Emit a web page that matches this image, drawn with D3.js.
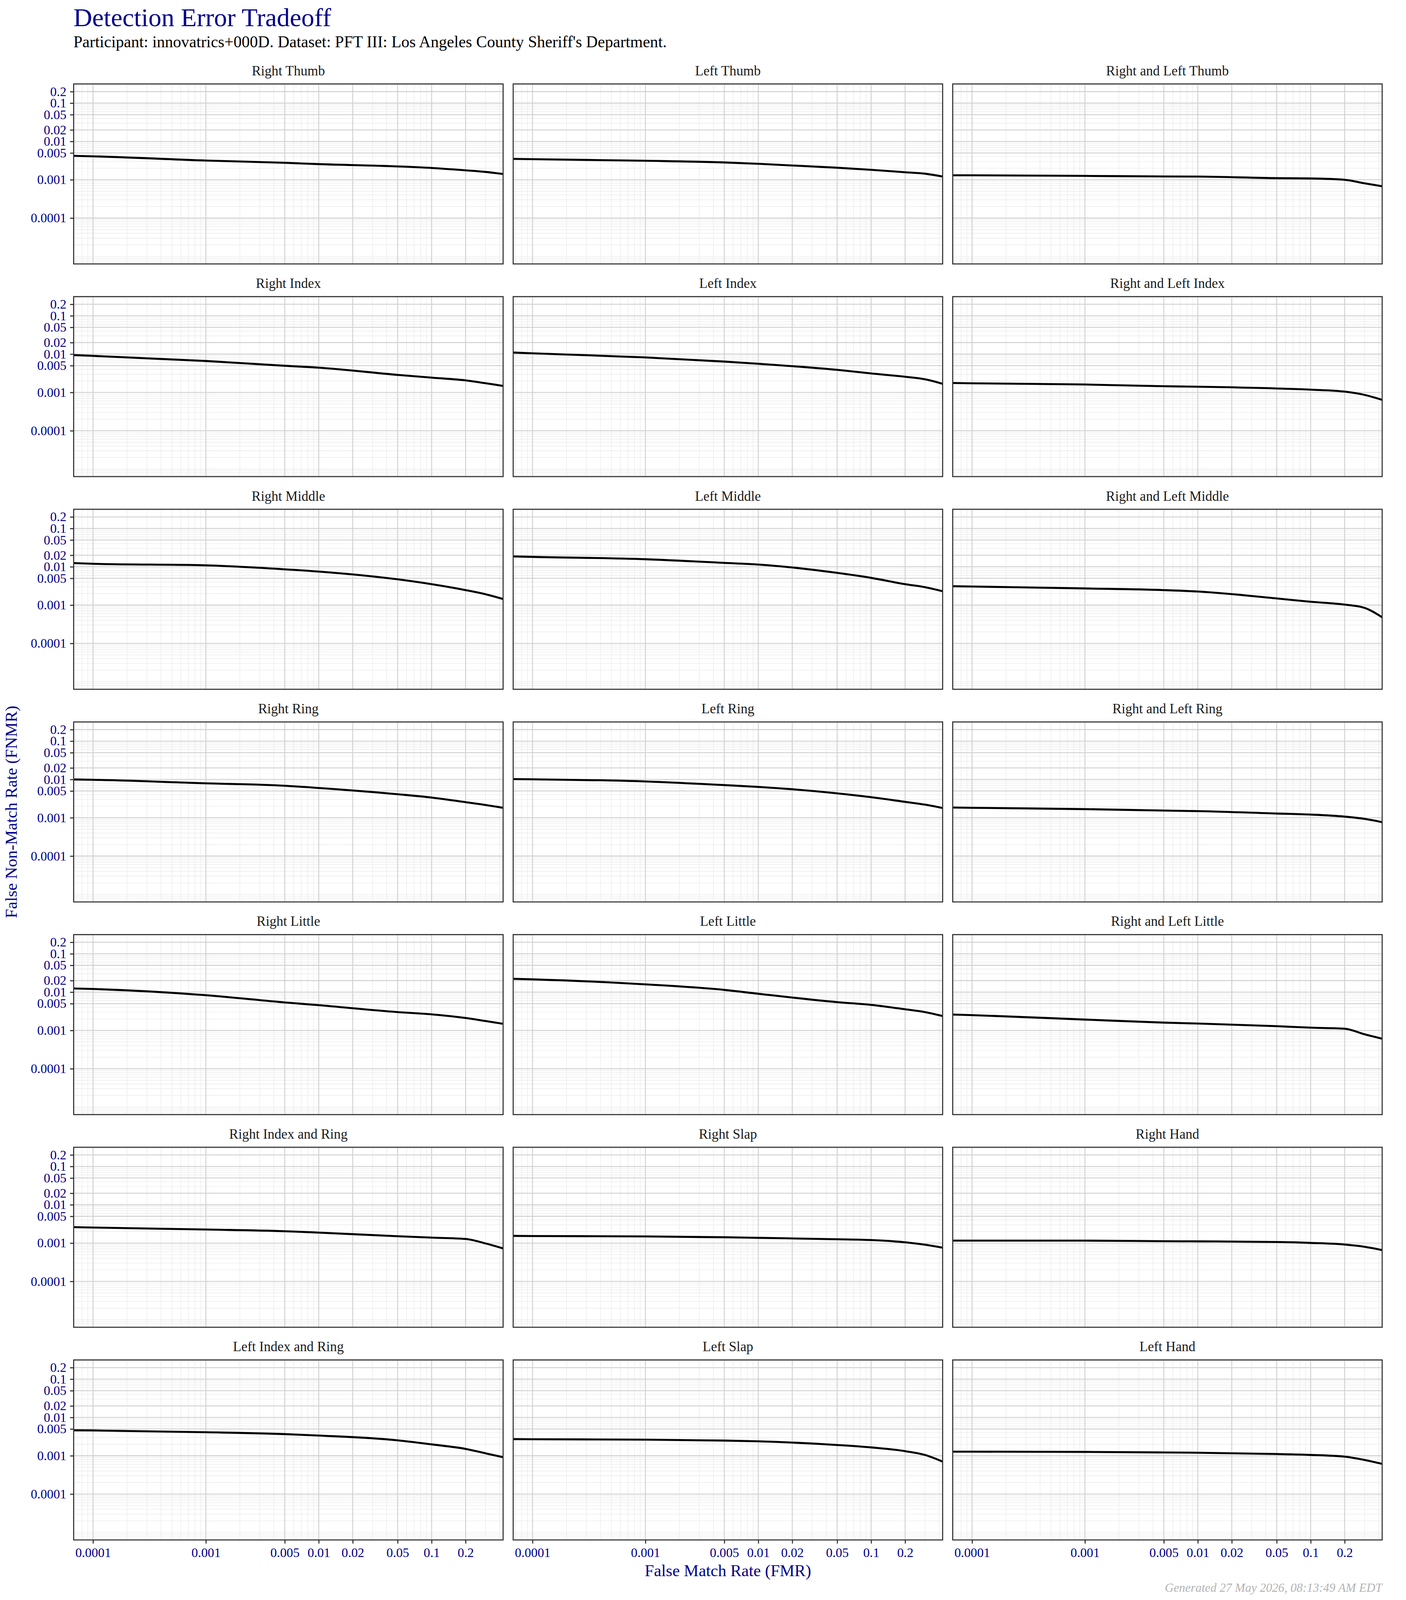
<!DOCTYPE html>
<html>
<head>
<meta charset="utf-8">
<script src="https://cdn.jsdelivr.net/npm/d3@7"></script>
<style>
	html, body { margin: 0; padding: 0; background: #fff; overflow: hidden; }
	#chart { display: block; }
	text { font-family: 'Liberation Serif', 'DejaVu Serif', serif; }
</style>
</head>
<body>
<svg id="chart"></svg>
<script>
// DATA
let panelTitles = [
	'Right Thumb', 'Left Thumb', 'Right and Left Thumb',
	'Right Index', 'Left Index', 'Right and Left Index',
	'Right Middle', 'Left Middle', 'Right and Left Middle',
	'Right Ring', 'Left Ring', 'Right and Left Ring',
	'Right Little', 'Left Little', 'Right and Left Little',
	'Right Index and Ring', 'Right Slap', 'Right Hand',
	'Left Index and Ring', 'Left Slap', 'Left Hand'
];

// FMR values the FNMR readings are taken at
let fmr = [6.74e-5, 0.0001, 0.001, 0.005, 0.01, 0.05, 0.1, 0.2, 0.3, 0.43];

let fnmrRightThumb = [0.00420, 0.00409, 0.00317, 0.00277, 0.00256, 0.00223, 0.00203, 0.00176, 0.00160, 0.00141];
let fnmrLeftThumb = [0.00351, 0.00344, 0.00313, 0.00283, 0.00261, 0.00206, 0.00182, 0.00157, 0.00144, 0.00121];
let fnmrBothThumb = [0.00131, 0.00131, 0.00126, 0.00122, 0.00121, 0.00110, 0.00108, 0.00100, 0.000807, 0.000675];
let fnmrRightIndex = [0.00942, 0.00899, 0.00661, 0.00496, 0.00443, 0.00287, 0.00243, 0.00206, 0.00174, 0.00148];
let fnmrLeftIndex = [0.01098, 0.01048, 0.00819, 0.00639, 0.00560, 0.00388, 0.00313, 0.00256, 0.00220, 0.00168];
let fnmrBothIndex = [0.00176, 0.00173, 0.00161, 0.00145, 0.00141, 0.00127, 0.00118, 0.00105, 0.000863, 0.000640];
let fnmrRightMiddle = [0.01246, 0.01197, 0.01091, 0.00858, 0.00750, 0.00470, 0.00351, 0.00246, 0.00192, 0.00144];
let fnmrLeftMiddle = [0.01861, 0.01811, 0.01574, 0.01263, 0.01143, 0.00693, 0.00513, 0.00351, 0.00293, 0.00230];
let fnmrBothMiddle = [0.00311, 0.00305, 0.00272, 0.00246, 0.00226, 0.00149, 0.00122, 0.00103, 0.000847, 0.000480];
let fnmrRightRing = [0.01000, 0.00980, 0.00792, 0.00684, 0.00598, 0.00411, 0.00337, 0.00255, 0.00216, 0.00182];
let fnmrLeftRing = [0.01020, 0.01007, 0.00887, 0.00711, 0.00639, 0.00434, 0.00344, 0.00260, 0.00220, 0.00179];
let fnmrBothRing = [0.00185, 0.00182, 0.00168, 0.00154, 0.00149, 0.00129, 0.00121, 0.00107, 0.000935, 0.000766];
let fnmrRightLittle = [0.01246, 0.01206, 0.00830, 0.00538, 0.00455, 0.00301, 0.00263, 0.00211, 0.00176, 0.00149];
let fnmrLeftLittle = [0.02228, 0.02154, 0.01595, 0.01143, 0.00905, 0.00548, 0.00464, 0.00356, 0.00301, 0.00238];
let fnmrBothLittle = [0.00260, 0.00251, 0.00192, 0.00160, 0.00151, 0.00129, 0.00118, 0.00111, 0.000792, 0.000607];
let fnmrRightIndexRing = [0.00261, 0.00255, 0.00226, 0.00204, 0.00188, 0.00151, 0.00139, 0.00128, 0.00098, 0.000726];
let fnmrRightSlap = [0.00154, 0.00153, 0.00149, 0.00142, 0.00137, 0.00126, 0.00120, 0.00105, 0.000905, 0.000760];
let fnmrRightHand = [0.00116, 0.00116, 0.00116, 0.00112, 0.00111, 0.00107, 0.00101, 0.000917, 0.000802, 0.000657];
let fnmrLeftIndexRing = [0.00461, 0.00458, 0.00411, 0.00367, 0.00337, 0.00253, 0.00198, 0.00151, 0.00116, 0.000917];
let fnmrLeftSlap = [0.00272, 0.00270, 0.00263, 0.00249, 0.00238, 0.00191, 0.00165, 0.00132, 0.00105, 0.000702];
let fnmrLeftHand = [0.00128, 0.00128, 0.00126, 0.00122, 0.00120, 0.00111, 0.00105, 0.000948, 0.000776, 0.000614];

let xTicks = [0.0001, 0.001, 0.005, 0.01, 0.02, 0.05, 0.1, 0.2];
let yTicks = [0.2, 0.1, 0.05, 0.02, 0.01, 0.005, 0.001, 0.0001];

let series = [
	fnmrRightThumb, fnmrLeftThumb, fnmrBothThumb,
	fnmrRightIndex, fnmrLeftIndex, fnmrBothIndex,
	fnmrRightMiddle, fnmrLeftMiddle, fnmrBothMiddle,
	fnmrRightRing, fnmrLeftRing, fnmrBothRing,
	fnmrRightLittle, fnmrLeftLittle, fnmrBothLittle,
	fnmrRightIndexRing, fnmrRightSlap, fnmrRightHand,
	fnmrLeftIndexRing, fnmrLeftSlap, fnmrLeftHand
];

// LAYOUT
// designed on a 3600 x 4800 page, stretched to whatever the window really is
let W = window.innerWidth || 3600, H = window.innerHeight || 4800;
let sx = W / 3600, sy = H / 4800;
let k = Math.sqrt(sx * sy);   // text and stroke scale

let left0 = 188.6 * sx, panelW = 1099.6 * sx, colStep = 1125.4 * sx;
let top0 = 251.8 * sy, panelH = 540 * sy, rowStep = 638 * sy;
let nRows = 7, nCols = 3;
let blue = '#00008b';
let serif = "'Liberation Serif', 'DejaVu Serif', serif";

let x = d3.scaleLog().domain([6.74e-5, 0.43]).range([0, panelW]);
let y = d3.scaleLog().domain([6.35e-6, 0.317]).range([panelH, 0]);

// every k * 10^n inside the domain, minus the labelled breaks
function minorValues(scale, major) {
	let d = scale.domain(), out = [];
	for (let e = -6; e <= 0; e++) {
		for (let m = 1; m <= 9; m++) {
			let v = +(m * Math.pow(10, e)).toPrecision(3);
			if (v >= d[0] && v <= d[1] && !major.some(t => Math.abs(t - v) < v * 1e-6)) out.push(v);
		}
	}
	return out;
}

let xMinor = minorValues(x, xTicks);
let yMinor = minorValues(y, yTicks);

let line = d3.line()
	.x(d => x(d[0]))
	.y(d => y(d[1]))
	.curve(d3.curveMonotoneX);

let svg = d3.select('#chart')
	.attr('width', W)
	.attr('height', H);

svg.append('rect')
	.attr('width', W)
	.attr('height', H)
	.attr('fill', '#fff');

svg.append('defs')
	.append('clipPath')
	.attr('id', 'panel-clip')
	.append('rect')
	.attr('width', panelW)
	.attr('height', panelH);

// TITLES
svg.append('text')
	.attr('x', 188 * sx)
	.attr('y', 79 * sy)
	.attr('font-size', 72 * k)
	.attr('fill', blue)
	.text('Detection Error Tradeoff');

svg.append('text')
	.attr('x', 188 * sx)
	.attr('y', 142 * sy)
	.attr('font-size', 45 * k)
	.attr('fill', '#000')
	.text("Participant: innovatrics+000D. Dataset: PFT III: Los Angeles County Sheriff's Department.");

// PANELS
panelTitles.forEach(function(title, i) {
	let row = Math.floor(i / nCols), col = i % nCols;
	let g = svg.append('g')
		.attr('transform', 'translate(' + (left0 + col * colStep) + ',' + (top0 + row * rowStep) + ')');

	g.append('text')
		.attr('x', panelW / 2)
		.attr('y', -24 * k)
		.attr('text-anchor', 'middle')
		.attr('font-size', 38 * k)
		.attr('fill', '#1a1a1a')
		.text(title);

	// minor grid
	g.selectAll('line.xminor')
		.data(xMinor)
		.enter()
		.append('line')
		.attr('x1', d => x(d)).attr('x2', d => x(d))
		.attr('y1', 0).attr('y2', panelH)
		.attr('stroke', '#ebebeb')
		.attr('stroke-width', 1.5 * k);

	g.selectAll('line.yminor')
		.data(yMinor)
		.enter()
		.append('line')
		.attr('y1', d => y(d)).attr('y2', d => y(d))
		.attr('x1', 0).attr('x2', panelW)
		.attr('stroke', '#ebebeb')
		.attr('stroke-width', 1.5 * k);

	// major grid
	g.selectAll('line.xmajor')
		.data(xTicks)
		.enter()
		.append('line')
		.attr('x1', d => x(d)).attr('x2', d => x(d))
		.attr('y1', 0).attr('y2', panelH)
		.attr('stroke', '#d0d0d0')
		.attr('stroke-width', 2.5 * k);

	g.selectAll('line.ymajor')
		.data(yTicks)
		.enter()
		.append('line')
		.attr('y1', d => y(d)).attr('y2', d => y(d))
		.attr('x1', 0).attr('x2', panelW)
		.attr('stroke', '#d0d0d0')
		.attr('stroke-width', 2.5 * k);

	g.append('path')
		.datum(fmr.map((f, j) => [f, series[i][j]]))
		.attr('clip-path', 'url(#panel-clip)')
		.attr('d', line)
		.attr('fill', 'none')
		.attr('stroke', '#000')
		.attr('stroke-width', 5.5 * k)
		.attr('stroke-linejoin', 'round');

	g.append('rect')
		.attr('width', panelW)
		.attr('height', panelH)
		.attr('fill', 'none')
		.attr('stroke', '#333')
		.attr('stroke-width', 3 * k);

	// y axis on the left column, x axis on the bottom row
	if (col === 0) {
		let ay = g.append('g')
			.call(d3.axisLeft(y).tickValues(yTicks).tickFormat(d => String(d)).tickSize(10 * k).tickPadding(10 * k));
		ay.select('.domain').remove();
		ay.selectAll('.tick line').attr('stroke', '#333').attr('stroke-width', 3 * k);
		ay.selectAll('.tick text')
			.attr('font-size', 36 * k)
			.attr('font-family', serif)
			.attr('fill', blue);
	}
	if (row === nRows - 1) {
		let ax = g.append('g')
			.attr('transform', 'translate(0,' + panelH + ')')
			.call(d3.axisBottom(x).tickValues(xTicks).tickFormat(d => String(d)).tickSize(10 * k).tickPadding(12 * k));
		ax.select('.domain').remove();
		ax.selectAll('.tick line').attr('stroke', '#333').attr('stroke-width', 3 * k);
		ax.selectAll('.tick text')
			.attr('font-size', 36 * k)
			.attr('font-family', serif)
			.attr('fill', blue);
	}
});

// AXIS TITLES
let plotRight = left0 + 2 * colStep + panelW;
let plotBottom = top0 + (nRows - 1) * rowStep + panelH;

svg.append('text')
	.attr('x', (left0 + plotRight) / 2)
	.attr('y', plotBottom + 100 * k)
	.attr('text-anchor', 'middle')
	.attr('font-size', 46 * k)
	.attr('fill', blue)
	.text('False Match Rate (FMR)');

svg.append('text')
	.attr('transform', 'translate(' + (43 * sx) + ',' + (top0 + plotBottom) / 2 + ') rotate(-90)')
	.attr('text-anchor', 'middle')
	.attr('font-size', 46 * k)
	.attr('fill', blue)
	.text('False Non-Match Rate (FNMR)');

svg.append('text')
	.attr('x', plotRight)
	.attr('y', H - 23 * k)
	.attr('text-anchor', 'end')
	.attr('font-size', 34 * k)
	.attr('font-style', 'italic')
	.attr('fill', '#b3b3b3')
	.text('Generated 27 May 2026, 08:13:49 AM EDT');
</script>
</body>
</html>
